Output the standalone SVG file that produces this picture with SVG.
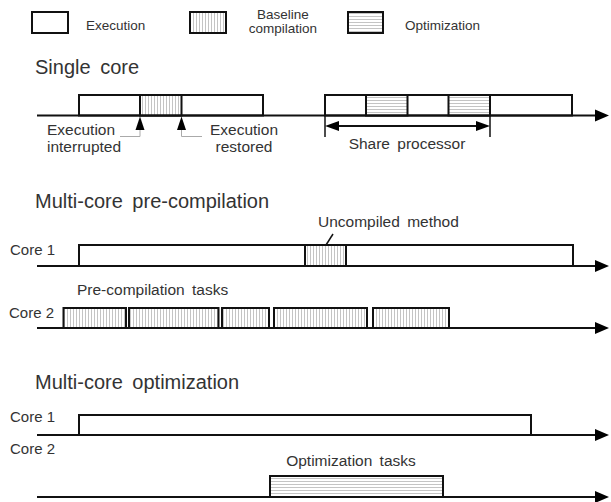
<svg xmlns="http://www.w3.org/2000/svg" width="611" height="502" viewBox="0 0 611 502">
<defs>
<pattern id="vh" width="3" height="4" patternUnits="userSpaceOnUse">
<rect width="3" height="4" fill="#fff"/>
<line x1="1.5" y1="0" x2="1.5" y2="4" stroke="#c4c4c4" stroke-width="1"/>
</pattern>
<pattern id="hh" width="4" height="3" patternUnits="userSpaceOnUse">
<rect width="4" height="3" fill="#fff"/>
<line x1="0" y1="1.5" x2="4" y2="1.5" stroke="#c4c4c4" stroke-width="1"/>
</pattern>
</defs>
<style>
text{font-family:"Liberation Sans",Arial,sans-serif;fill:#333}
.t{font-size:20px;word-spacing:4px}
.l{font-size:15.5px;word-spacing:3px}
.c{font-size:15px}
.g{font-size:13.5px}
.box{fill:#fff;stroke:#111;stroke-width:2}
.bc{fill:url(#vh);stroke:#111;stroke-width:2}
.op{fill:url(#hh);stroke:#111;stroke-width:2}
.ax{stroke:#111;stroke-width:2;fill:none}
.ah{fill:#000}
.lead{stroke:#aaa;stroke-width:1;fill:none}
</style>

<g id="legend">
<rect class="box" x="32" y="12" width="36" height="21"/>
<text class="g" x="86" y="30">Execution</text>
<rect class="bc" x="190" y="12" width="36" height="21"/>
<text class="g" x="283" y="19" text-anchor="middle">Baseline</text>
<text class="g" x="283" y="33" text-anchor="middle">compilation</text>
<rect class="op" x="348" y="12" width="35" height="21"/>
<text class="g" x="405" y="30">Optimization</text>
</g>

<g id="single-core">
<text class="t" x="35" y="74">Single core</text>
<rect class="box" x="79" y="95" width="184" height="20.5"/>
<rect class="bc" x="140" y="95" width="41.5" height="20.5"/>
<rect class="box" x="325" y="95" width="247" height="20.5"/>
<rect class="op" x="366" y="95" width="41.5" height="20.5"/>
<rect class="op" x="448.5" y="95" width="41.5" height="20.5"/>
<text class="l" x="47" y="134.5">Execution</text>
<text class="l" x="47" y="152">interrupted</text>
<text class="l" x="244" y="134.5" text-anchor="middle">Execution</text>
<text class="l" x="244" y="152" text-anchor="middle">restored</text>
<text class="l" x="407" y="149" text-anchor="middle">Share processor</text>
</g>

<g id="precomp">
<text class="t" x="35" y="208">Multi-core pre-compilation</text>
<text class="c" x="10" y="255">Core 1</text>
<rect class="box" x="79" y="245" width="494" height="21"/>
<rect class="bc" x="305" y="245" width="41" height="21"/>
<text class="l" x="318" y="227">Uncompiled method</text>
<text class="l" x="77" y="295">Pre-compilation tasks</text>
<text class="c" x="9" y="318">Core 2</text>
<rect class="bc" x="63.5" y="308" width="62.5" height="20"/>
<rect class="bc" x="129" y="308" width="89.5" height="20"/>
<rect class="bc" x="222" y="308" width="47" height="20"/>
<rect class="bc" x="274" y="308" width="93" height="20"/>
<rect class="bc" x="373" y="308" width="76" height="20"/>
</g>

<g id="optim">
<text class="t" x="35" y="389">Multi-core optimization</text>
<text class="c" x="10" y="422">Core 1</text>
<rect class="box" x="79" y="415" width="452" height="20"/>
<text class="c" x="10" y="454">Core 2</text>
<rect class="op" x="270" y="476" width="173" height="21"/>
<text class="l" x="351" y="466" text-anchor="middle">Optimization tasks</text>
</g>

<g id="connectors">
<line class="ax" x1="37" y1="115.5" x2="596" y2="115.5"/>
<polygon class="ah" points="595,109.5 609,115.5 595,121.5"/>
<line class="ax" x1="37" y1="266" x2="596" y2="266"/>
<polygon class="ah" points="595,260 609,266 595,272"/>
<line class="ax" x1="37" y1="328" x2="596" y2="328"/>
<polygon class="ah" points="595,322 609,328 595,334"/>
<line class="ax" x1="37" y1="435" x2="596" y2="435"/>
<polygon class="ah" points="595,429 609,435 595,441"/>
<line class="ax" x1="37" y1="497" x2="596" y2="497"/>
<polygon class="ah" points="595,491 609,497 595,503"/>
<polygon class="ah" points="140,116.5 135.5,130 144.5,130"/>
<polygon class="ah" points="181.5,116.5 177,130 186,130"/>
<polyline class="lead" points="120,136.5 140,136.5 140,130"/>
<polyline class="lead" points="181.5,130 181.5,136.5 202,136.5"/>
<line stroke="#111" stroke-width="1.5" x1="325" y1="115" x2="325" y2="137"/>
<line stroke="#111" stroke-width="1.5" x1="490" y1="115" x2="490" y2="137"/>
<line stroke="#111" stroke-width="2" x1="336" y1="126" x2="479" y2="126"/>
<polygon class="ah" points="325,126 339,121 339,131"/>
<polygon class="ah" points="490,126 476,121 476,131"/>
<line stroke="#111" stroke-width="1.5" x1="333" y1="234" x2="326" y2="245"/>
</g>
</svg>
